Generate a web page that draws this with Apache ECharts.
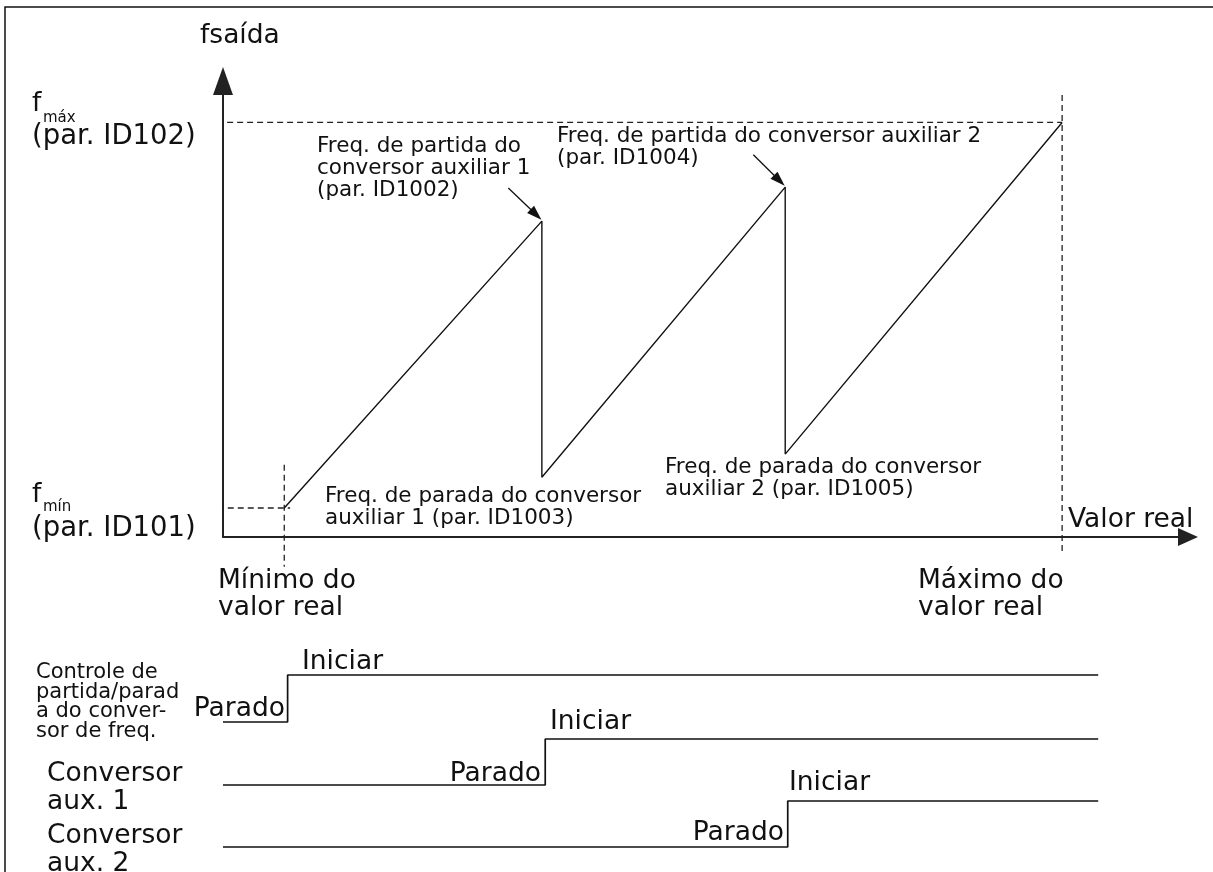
<!DOCTYPE html>
<html>
<head>
<meta charset="utf-8">
<style>
  html, body { margin: 0; padding: 0; background: #fff; }
  #chart { width: 1213px; height: 872px; }
</style>
<script src="https://cdn.jsdelivr.net/npm/echarts@6/dist/echarts.min.js"></script>
</head>
<body>
<div id="chart"></div>
<script>
// valor real (x) and frequency (y) levels
const actMin = 7.3
const actMax = 100
const fMin = 3.5
const fMax = 50

// aux converter start / stop points
const auxX = [38, 67]
const auxStartFreq = [38.1, 42.2]
const auxStopFreq = [7.2, 10]

// start/stop signals: x where each switches from Parado to Iniciar
const switchX = [7.7, 38.4, 67.3]
const signalEndX = 104.3

const xMax = 115
const yMax = 55

const sawtooth = [
  [actMin, fMin],
  [auxX[0], auxStartFreq[0]],
  [auxX[0], auxStopFreq[0]],
  [auxX[1], auxStartFreq[1]],
  [auxX[1], auxStopFreq[1]],
  [actMax, fMax]
]

const signal = (sw) => [[0, 0], [sw, 1], [signalEndX, 1]]

const FONT = '"DejaVu Sans", Verdana, sans-serif'
const ink = '#111'

const txt = (text, x, y, size, align) => ({
  type: 'text',
  x: x,
  y: y,
  silent: true,
  style: {
    text: text,
    font: size + 'px ' + FONT,
    fill: ink,
    align: align || 'left',
    verticalAlign: 'middle'
  }
})

const dashed = (data) => ({
  type: 'line',
  xAxisIndex: 0,
  yAxisIndex: 0,
  data: data,
  clip: false,
  symbol: 'none',
  silent: true,
  lineStyle: { color: '#222', width: 1.3, type: [6, 4] },
  z: 1
})

const chart = echarts.init(document.getElementById('chart'))

const grids = [
  { left: 223, top: 81, width: 965, height: 456 },
  { left: 223, top: 675, width: 965, height: 47 },
  { left: 223, top: 739, width: 965, height: 46 },
  { left: 223, top: 801, width: 965, height: 46 }
]

const hiddenX = (i) => ({ type: 'value', gridIndex: i, min: 0, max: xMax, show: false })
const hiddenY = (i) => ({ type: 'value', gridIndex: i, min: 0, max: 1, show: false })

const BIG = 26.5
const MID = 21.5
const SMALL = 21

const option = {
  animation: false,
  backgroundColor: '#fff',
  grid: grids,
  xAxis: [
    {
      type: 'value',
      gridIndex: 0,
      min: 0,
      max: xMax,
      axisLine: {
        show: true,
        symbol: ['none', 'triangle'],
        symbolSize: [18, 20],
        lineStyle: { color: '#222', width: 2 }
      },
      axisTick: { show: false },
      axisLabel: { show: false },
      splitLine: { show: false }
    },
    hiddenX(1), hiddenX(2), hiddenX(3)
  ],
  yAxis: [
    {
      type: 'value',
      gridIndex: 0,
      min: 0,
      max: yMax,
      axisLine: {
        show: true,
        symbol: ['none', 'triangle'],
        symbolSize: [20, 28],
        lineStyle: { color: '#222', width: 2 }
      },
      axisTick: { show: false },
      axisLabel: { show: false },
      splitLine: { show: false }
    },
    hiddenY(1), hiddenY(2), hiddenY(3)
  ],
  series: [
    dashed([[-0.7, fMax], [actMax, fMax]]),
    dashed([[actMax, 53.3], [actMax, -1.9]]),
    dashed([[-4.2, fMin], [8.0, fMin]]),
    dashed([[actMin, 8.7], [actMin, -3.6]]),
    {
      type: 'line',
      xAxisIndex: 0,
      yAxisIndex: 0,
      data: sawtooth,
      symbol: 'none',
      clip: false,
      lineStyle: { color: '#111', width: 1.4 },
      z: 3,
      markLine: {
        silent: true,
        symbol: ['none', 'triangle'],
        symbolSize: [10, 15],
        label: { show: false },
        lineStyle: { color: '#111', width: 1.3, type: 'solid' },
        data: [
          [{ coord: [34.0, 42.1] }, { coord: [37.3, 38.9] }],
          [{ coord: [63.2, 46.1] }, { coord: [66.3, 43.0] }]
        ]
      }
    },
    ...switchX.map((sw, i) => ({
      type: 'line',
      xAxisIndex: i + 1,
      yAxisIndex: i + 1,
      data: signal(sw),
      step: 'end',
      symbol: 'none',
      clip: false,
      lineStyle: { color: '#111', width: 1.7 }
    }))
  ],
  graphic: [
    {
      type: 'rect',
      silent: true,
      shape: { x: 5, y: 7, width: 1220, height: 900 },
      style: { fill: 'none', stroke: '#111', lineWidth: 1.5 }
    },
    txt('fsaída', 200, 36, BIG),
    txt('f', 32, 104, BIG),
    txt('máx', 43, 118, 15),
    txt('(par. ID102)', 32, 137, 27.5),
    txt('f', 32, 495, BIG),
    txt('mín', 43, 507, 15),
    txt('(par. ID101)', 32, 529, 27.5),

    txt('Freq. de partida do', 317, 146, MID),
    txt('conversor auxiliar 1', 317, 168, MID),
    txt('(par. ID1002)', 317, 190, MID),
    txt('Freq. de partida do conversor auxiliar 2', 557, 136, MID),
    txt('(par. ID1004)', 557, 158, MID),
    txt('Freq. de parada do conversor', 325, 496, MID),
    txt('auxiliar 1 (par. ID1003)', 325, 518, MID),
    txt('Freq. de parada do conversor', 665, 467, MID),
    txt('auxiliar 2 (par. ID1005)', 665, 489, MID),

    txt('Valor real', 1068, 520, BIG),
    txt('Mínimo do', 218, 581, BIG),
    txt('valor real', 218, 608, BIG),
    txt('Máximo do', 918, 581, BIG),
    txt('valor real', 918, 608, BIG),

    txt('Controle de', 36, 673, SMALL),
    txt('partida/parad', 36, 693, SMALL),
    txt('a do conver-', 36, 712, SMALL),
    txt('sor de freq.', 36, 732, SMALL),
    txt('Conversor', 47, 774, BIG),
    txt('aux. 1', 47, 802, BIG),
    txt('Conversor', 47, 836, BIG),
    txt('aux. 2', 47, 864, BIG),

    txt('Parado', 285, 709, BIG, 'right'),
    txt('Iniciar', 302, 662, BIG),
    txt('Parado', 541, 774, BIG, 'right'),
    txt('Iniciar', 550, 722, BIG),
    txt('Parado', 784, 833, BIG, 'right'),
    txt('Iniciar', 789, 783, BIG)
  ]
}

chart.setOption(option)
</script>
</body>
</html>
